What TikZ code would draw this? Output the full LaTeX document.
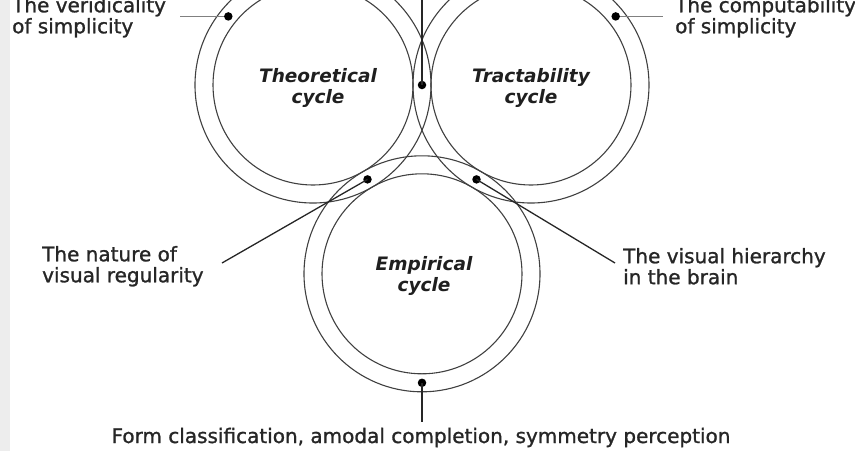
\documentclass[tikz,border=0pt]{standalone}
\usepackage{fontspec}
\setmainfont{DejaVu Sans}
\newfontfamily\lblfont[FakeBold=1.2]{DejaVu Sans}
\begin{document}
\begin{tikzpicture}[x=1pt,y=-1pt,
  ring/.style={draw=black!75, line width=1.1pt},
  conn/.style={draw=black!85, line width=1.3pt},
  hconn/.style={draw=black!50, line width=1.6pt},
  dot/.style={circle, fill=black, inner sep=0pt, minimum size=8.5pt},
  lbl/.style={font=\lblfont\fontsize{20}{21}\selectfont, inner sep=0pt, text=black!85, align=left},
  cyc/.style={font=\fontsize{18.5}{21}\selectfont\bfseries\itshape, inner sep=0pt, align=center, text=black!88}]
\useasboundingbox (0,0) rectangle (855,451);
\fill[black!7] (0,0) rectangle (10,451);
% circle centres
\coordinate (T) at (313,85);
\coordinate (R) at (531,85);
\coordinate (E) at (422,273.8);
\foreach \c in {T,R,E} {
  \draw[ring] (\c) circle[radius=100pt];
  \draw[ring] (\c) circle[radius=118pt];
}
% cycle names
\node[cyc] (tc) at (318,87.7) {Theoretical\\cycle};
\node[cyc] (rc) at (531,87.7) {Tractability\\cycle};
\node[cyc] (ec) at (424,275.7) {Empirical\\cycle};
% dots
\node[dot] (dTL) at (228.3,16.4) {};
\node[dot] (dTR) at (615.7,16.4) {};
\node[dot] (dTM) at (422,85) {};
\node[dot] (dL) at (367.5,179.4) {};
\node[dot] (dR) at (476.5,179.4) {};
\node[dot] (dB) at (422,382.8) {};
% labels
\node[lbl, anchor=west] (lTL) at (12,17.25) {The veridicality\\of simplicity};
\node[lbl, anchor=west] (lTR) at (675,17.25) {The computability\\of simplicity};
\node[lbl, anchor=west] (lL) at (42,266.25) {The nature of\\visual regularity};
\node[lbl, anchor=west] (lR) at (623,266.25) {The visual hierarchy\\in the brain};
\node[lbl, anchor=base] (lB) at (421,443) {Form classification, amodal completion, symmetry perception};
% connector free ends
\coordinate (eTL) at (180,16.4);
\coordinate (eTR) at (663,16.4);
\coordinate (eTM) at (422,-10);
\coordinate (eL) at (222,263);
\coordinate (eR) at (615,263);
\coordinate (eB) at (422,422);
% connectors
\draw[hconn] (dTL) -- (eTL);
\draw[hconn] (dTR) -- (eTR);
\draw[conn] (dTM.center) -- (eTM);
\draw[conn] (dL.center) -- (eL);
\draw[conn] (dR.center) -- (eR);
\draw[conn] (dB.center) -- (eB);
\end{tikzpicture}
\end{document}
